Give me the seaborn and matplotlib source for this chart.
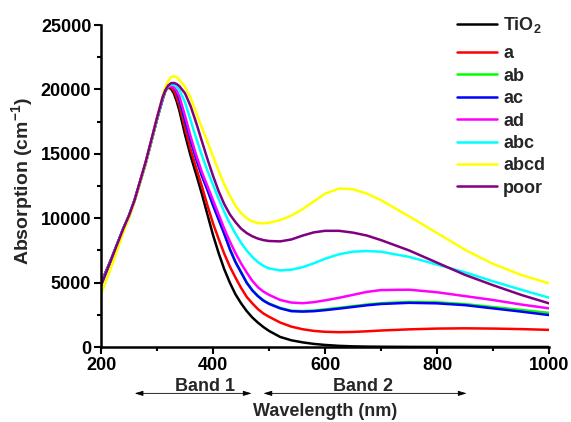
import numpy as np
import pandas as pd
import matplotlib
matplotlib.use("Agg")
import matplotlib.pyplot as plt
import matplotlib.transforms as mtransforms
import seaborn as sns

wavelength = [200, 220, 240, 250, 260, 280, 290, 300, 310, 315, 320, 325, 330, 335, 340, 350, 360, 370, 380, 390,
              400, 410, 420, 430, 440, 450, 460, 470, 480, 490, 500, 520, 540, 560, 580, 600,
              625, 650, 675, 700, 750, 800, 850, 900, 950, 1000]

tio2 = [5000, 6900, 9200, 10100, 11400, 14300, 16000, 17700, 19200, 19900, 20150, 20050, 19700, 19100, 18350, 16500, 14850, 13400, 11900, 10300,
        8700, 7300, 6050, 5000, 4100, 3400, 2800, 2300, 1900, 1550, 1250, 780, 520, 360, 240, 160,
        90, 50, 30, 20, 10, 5, 2, 0, 0, 0]
a = [4950, 7000, 9200, 10200, 11400, 14300, 16000, 17700, 19300, 19900, 20200, 20150, 19900, 19400, 18750, 17000, 15350, 13900, 12500, 11000,
     9600, 8400, 7250, 6250, 5400, 4600, 3900, 3400, 2950, 2600, 2350, 1900, 1580, 1380, 1250, 1180,
     1150, 1170, 1220, 1280, 1370, 1430, 1450, 1430, 1390, 1330]
ab = [4900, 7000, 9200, 10200, 11400, 14300, 16000, 17700, 19300, 19950, 20280, 20310, 20180, 19830, 19250, 17600, 16050, 14630, 13330, 12230,
      11030, 9930, 8830, 7630, 6630, 5830, 5030, 4430, 3980, 3630, 3380, 3030, 2820, 2790, 2830, 2920,
      3040, 3170, 3300, 3400, 3500, 3470, 3330, 3100, 2880, 2650]
ac = [4900, 7000, 9200, 10200, 11400, 14300, 16000, 17700, 19300, 19950, 20250, 20280, 20150, 19800, 19220, 17570, 16020, 14600, 13300, 12200,
      11000, 9900, 8800, 7600, 6600, 5800, 5000, 4400, 3950, 3600, 3350, 3000, 2780, 2750, 2780, 2860,
      2980, 3110, 3240, 3340, 3430, 3390, 3250, 3000, 2750, 2480]
ad = [4850, 7000, 9200, 10200, 11400, 14400, 16050, 17700, 19300, 19950, 20200, 20250, 20150, 19900, 19450, 17950, 16350, 14900, 13600, 12500,
      11400, 10300, 9200, 8200, 7300, 6500, 5800, 5150, 4650, 4300, 4050, 3650, 3450, 3400, 3480, 3620,
      3820, 4050, 4280, 4420, 4450, 4250, 3950, 3650, 3300, 3000]
abc = [4800, 7000, 9200, 10200, 11400, 14300, 16000, 17700, 19300, 19950, 20250, 20380, 20350, 20200, 19950, 19000, 17600, 16200, 14900, 13700,
       12600, 11500, 10500, 9600, 8800, 8100, 7500, 7000, 6600, 6300, 6100, 5950, 6000, 6200, 6500, 6850,
       7200, 7400, 7450, 7400, 7000, 6400, 5800, 5100, 4450, 3830]
abcd = [4100, 6400, 8900, 10000, 11300, 14300, 16050, 17800, 19500, 20200, 20650, 20950, 21030, 20950, 20750, 20200, 19350, 18200, 17050, 15950,
        14800, 13700, 12650, 11750, 10980, 10400, 10000, 9750, 9620, 9600, 9650, 9850, 10200, 10700, 11300, 11900,
        12300, 12250, 11900, 11400, 10150, 8850, 7550, 6450, 5600, 4940]
poor = [4750, 7000, 9200, 10200, 11400, 14400, 16100, 17800, 19400, 19950, 20300, 20480, 20500, 20420, 20250, 19700, 18700, 17400, 16000, 14600,
        13300, 12100, 11100, 10300, 9700, 9200, 8850, 8600, 8420, 8300, 8230, 8200, 8350, 8650, 8900, 9020,
        9020, 8880, 8650, 8300, 7500, 6550, 5600, 4800, 4050, 3390]

series_names = ["TiO2", "a", "ab", "ac", "ad", "abc", "abcd", "poor"]
series_values = [tio2, a, ab, ac, ad, abc, abcd, poor]
legend_labels = ["TiO$_2$", "a", "ab", "ac", "ad", "abc", "abcd", "poor"]
colors = ["#000000", "#FF0000", "#00FF00", "#0000FF", "#FF00FF", "#00FFFF", "#FFFF00", "#800080"]

x_ticks = [200, 400, 600, 800, 1000]
y_ticks = [0, 5000, 10000, 15000, 20000, 25000]

rows = []
for name, vals in zip(series_names, series_values):
    for w, v in zip(wavelength, vals):
        rows.append({"wl": w, "val": v, "sample": name})
df = pd.DataFrame(rows)

sns.set_style("ticks")
plt.rcParams["font.family"] = ["Liberation Sans", "DejaVu Sans"]
plt.rcParams["font.weight"] = "bold"
plt.rcParams["mathtext.fontset"] = "custom"
plt.rcParams["mathtext.rm"] = "Liberation Sans:bold"
plt.rcParams["mathtext.it"] = "Liberation Sans:bold"
plt.rcParams["mathtext.bf"] = "Liberation Sans:bold"

fig = plt.figure(figsize=(5.71, 4.22), dpi=100)
ax = fig.add_axes([101 / 571, 1 - 347 / 422, 448 / 571, 322 / 422])

palette = dict(zip(series_names, colors))
sns.lineplot(data=df, x="wl", y="val", hue="sample", hue_order=series_names,
             palette=palette, estimator=None, sort=False, linewidth=1.8, ax=ax, legend=False)

ax.set_xlim(200, 1000)
ax.set_ylim(0, 25000)
ax.set_xticks(x_ticks)
ax.set_yticks(y_ticks)
ax.set_xticks([300, 500, 700, 900], minor=True)
ax.set_yticks([2500, 7500, 12500, 17500, 22500], minor=True)
ax.set_xticklabels([str(t) for t in x_ticks], fontsize=13, fontweight="bold")
ax.set_yticklabels([str(t) for t in y_ticks], fontsize=13, fontweight="bold")
ax.tick_params(axis="both", which="major", direction="out", length=5, width=1.5, pad=2, colors="black")
ax.tick_params(axis="both", which="minor", direction="out", length=3, width=1.5, colors="black")
for s in ["top", "right"]:
    ax.spines[s].set_visible(False)
for s in ["left", "bottom"]:
    ax.spines[s].set_linewidth(1.8)
    ax.spines[s].set_color("black")

ax.set_xlabel("")
ax.set_ylabel("Absorption (cm$^{-1}$)", fontsize=14, fontweight="bold")
ax.yaxis.set_label_coords(-0.148, 0.515)

trans = mtransforms.blended_transform_factory(ax.transData, ax.transAxes)
ax.text(600, -0.2, "Wavelength (nm)", transform=trans, ha="center", va="center",
        fontsize=13, fontweight="bold")
ax.text(386, -0.122, "Band 1", transform=trans, ha="center", va="center", fontsize=13, fontweight="bold")
ax.text(668, -0.122, "Band 2", transform=trans, ha="center", va="center", fontsize=13, fontweight="bold")
arrow_kw = dict(arrowstyle="<|-|>,head_length=0.5,head_width=0.15", color="black", lw=0.6,
                shrinkA=0, shrinkB=0)
ax.annotate("", xy=(260, -0.144), xytext=(469, -0.144), xycoords=trans, textcoords=trans,
            arrowprops=arrow_kw, annotation_clip=False)
ax.annotate("", xy=(490, -0.144), xytext=(853, -0.144), xycoords=trans, textcoords=trans,
            arrowprops=arrow_kw, annotation_clip=False)

handles = [plt.Line2D([], [], color=c, lw=1.8) for c in colors]
leg_kw = dict(loc="upper left", frameon=False, fontsize=13, handlelength=2.2, handletextpad=0.35,
              labelspacing=0.3, borderpad=0, borderaxespad=0)
leg1 = ax.legend(handles[:1], legend_labels[:1], bbox_to_anchor=(0.795, 1.03), **leg_kw)
ax.add_artist(leg1)
leg2 = ax.legend(handles[1:], legend_labels[1:], bbox_to_anchor=(0.795, 0.937), **leg_kw)
for lg in (leg1, leg2):
    for t in lg.get_texts():
        t.set_fontweight("bold")

fig.savefig("out.png", dpi=100)
